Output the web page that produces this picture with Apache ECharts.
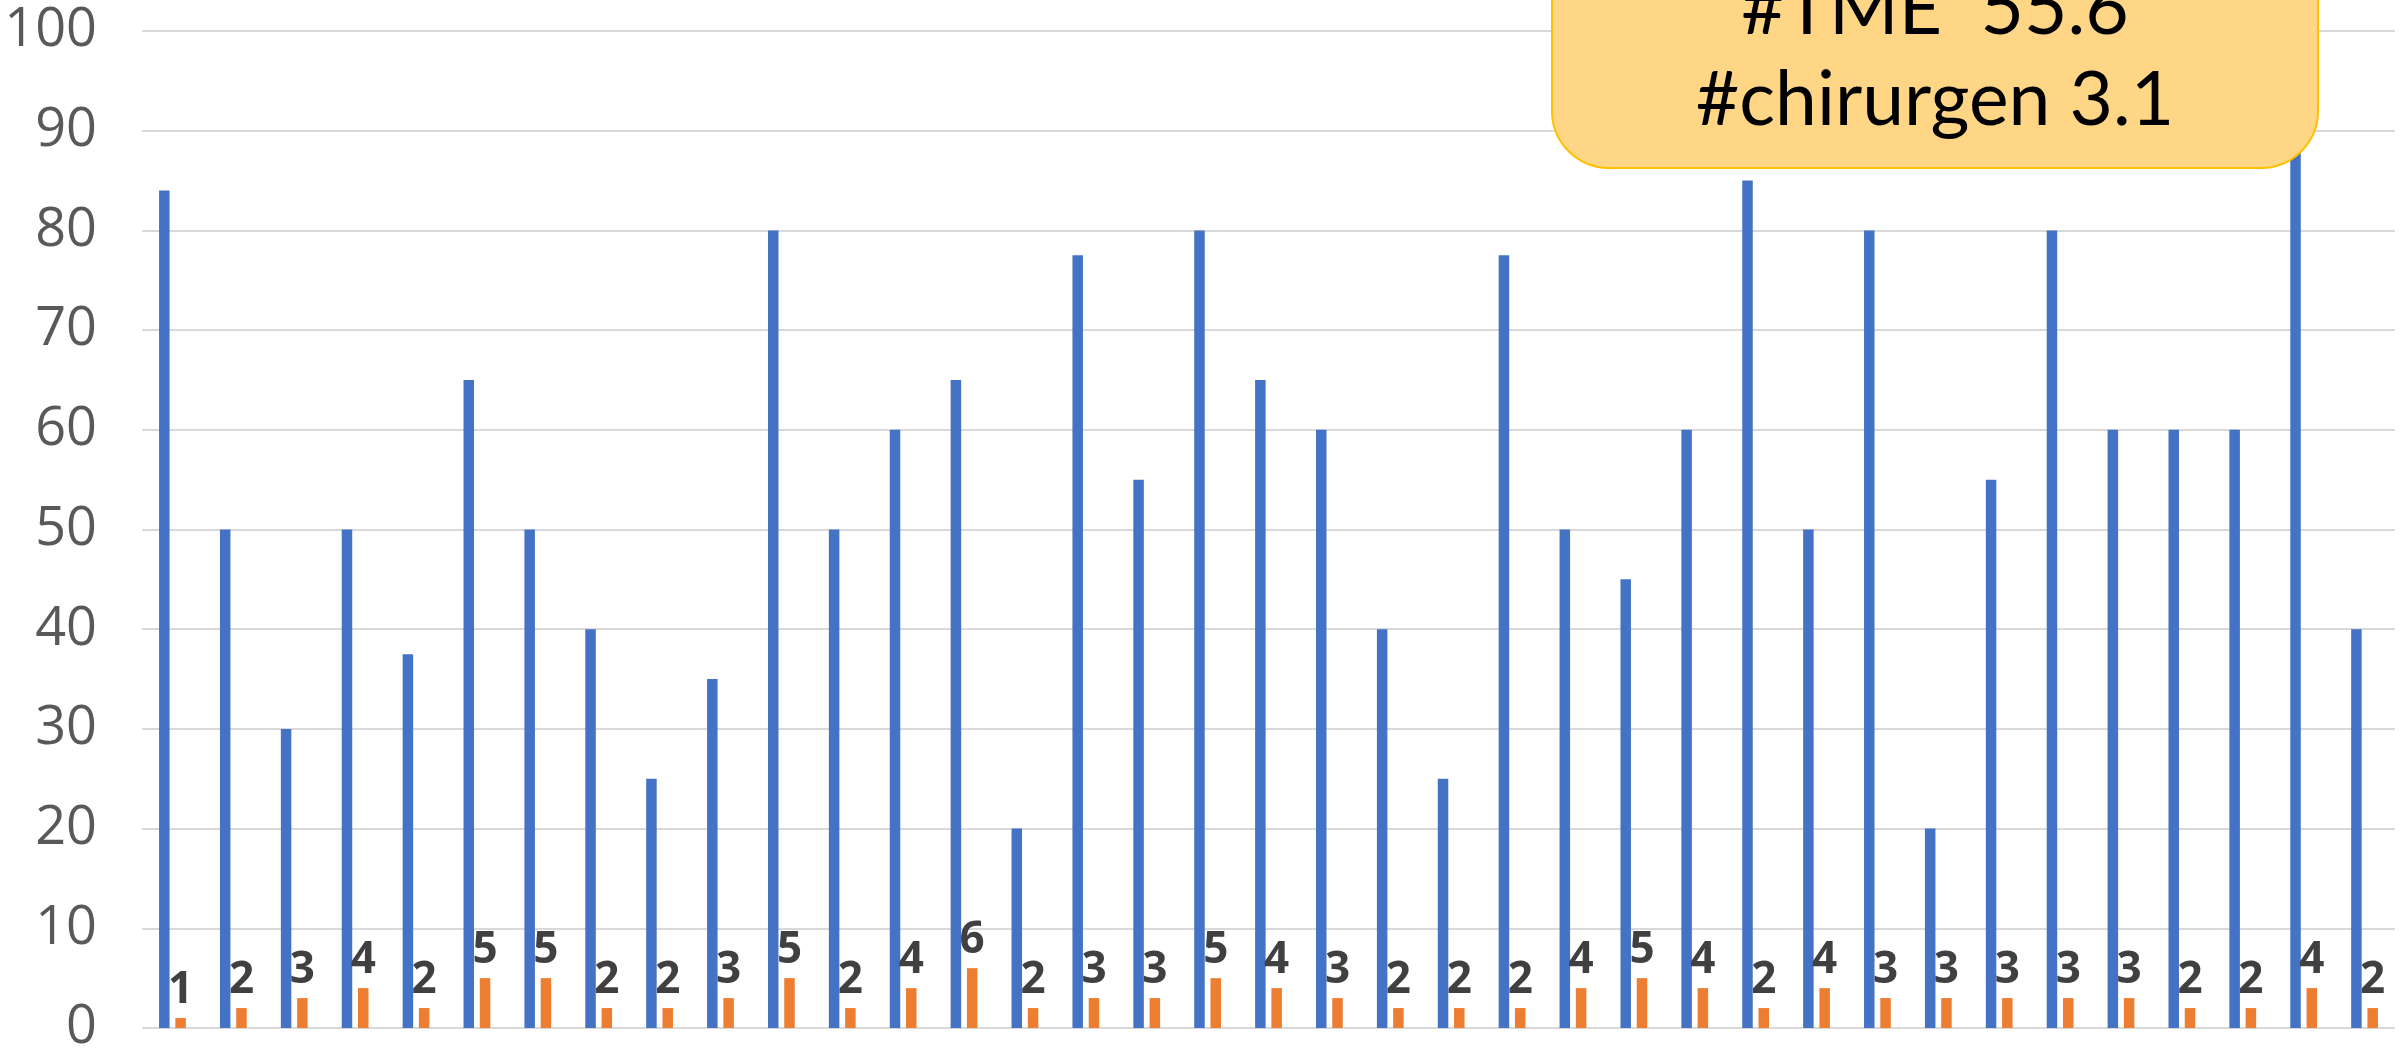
<!DOCTYPE html>
<html>
<head>
<meta charset="utf-8">
<script src="https://cdn.jsdelivr.net/npm/echarts@6/dist/echarts.min.js"></script>
<style>
html,body{margin:0;padding:0;background:#fff;}
#chart{width:2407px;height:1055px;}
</style>
</head>
<body>
<div id="chart"></div>
<script>
var categories = ['1','2','3','4','5','6','7','8','9','10','11','12','13','14','15','16','17','18','19','20','21','22','23','24','25','26','27','28','29','30','31','32','33','34','35','36','37'];
var tmeValues = [84,50,30,50,37.5,65,50,40,25,35,80,50,60,65,20,77.5,55,80,65,60,40,25,77.5,50,45,60,85,50,80,20,55,80,60,60,60,90,40];
var chirurgenValues = [1,2,3,4,2,5,5,2,2,3,5,2,4,6,2,3,3,5,4,3,2,2,2,4,5,4,2,4,3,3,3,3,3,2,2,4,2];
var yTicks = {min:0, max:100, interval:10};
var boxLines = ['#TME  55.6', '#chirurgen 3.1'];

var chart = echarts.init(document.getElementById('chart'), null, {renderer:'canvas'});
chart.setOption({
  animation:false,
  backgroundColor:'#ffffff',
  grid:{left:142, right:12, top:31, bottom:21, containLabel:false},
  xAxis:{
    type:'category', data:categories,
    axisLine:{show:false}, axisTick:{show:false}, axisLabel:{show:false}, splitLine:{show:false}
  },
  yAxis:{
    type:'value', min:yTicks.min, max:yTicks.max, interval:yTicks.interval,
    axisLine:{show:false}, axisTick:{show:false},
    axisLabel:{margin:45, fontSize:54, color:'#595959', fontFamily:'Open Sans'},
    splitLine:{lineStyle:{color:'#D9D9D9', width:2}}
  },
  series:[
    {name:'#TME', type:'bar', data:tmeValues, barWidth:10.5, barGap:'55%',
     itemStyle:{color:'#4472C4'}},
    {name:'#chirurgen', type:'bar', data:chirurgenValues, barWidth:10.5, barGap:'55%',
     itemStyle:{color:'#ED7D31'},
     label:{show:true, position:'top', distance:6, fontSize:44, fontWeight:'bold',
            color:'#404040', fontFamily:'Open Sans'}}
  ],
  graphic:[
    {type:'rect', z:100, shape:{x:1552, y:-80, width:766, height:248, r:57},
     style:{fill:'#FFD685', stroke:'#FFC000', lineWidth:2}},
    {type:'text', z:101, x:1935, y:10,
     style:{text:boxLines[0], fontSize:75, fontFamily:'Lato', fill:'#000', align:'center', verticalAlign:'middle'}},
    {type:'text', z:101, x:1935, y:101,
     style:{text:boxLines[1], fontSize:75, fontFamily:'Lato', fill:'#000', align:'center', verticalAlign:'middle'}}
  ]
});
</script>
</body>
</html>
